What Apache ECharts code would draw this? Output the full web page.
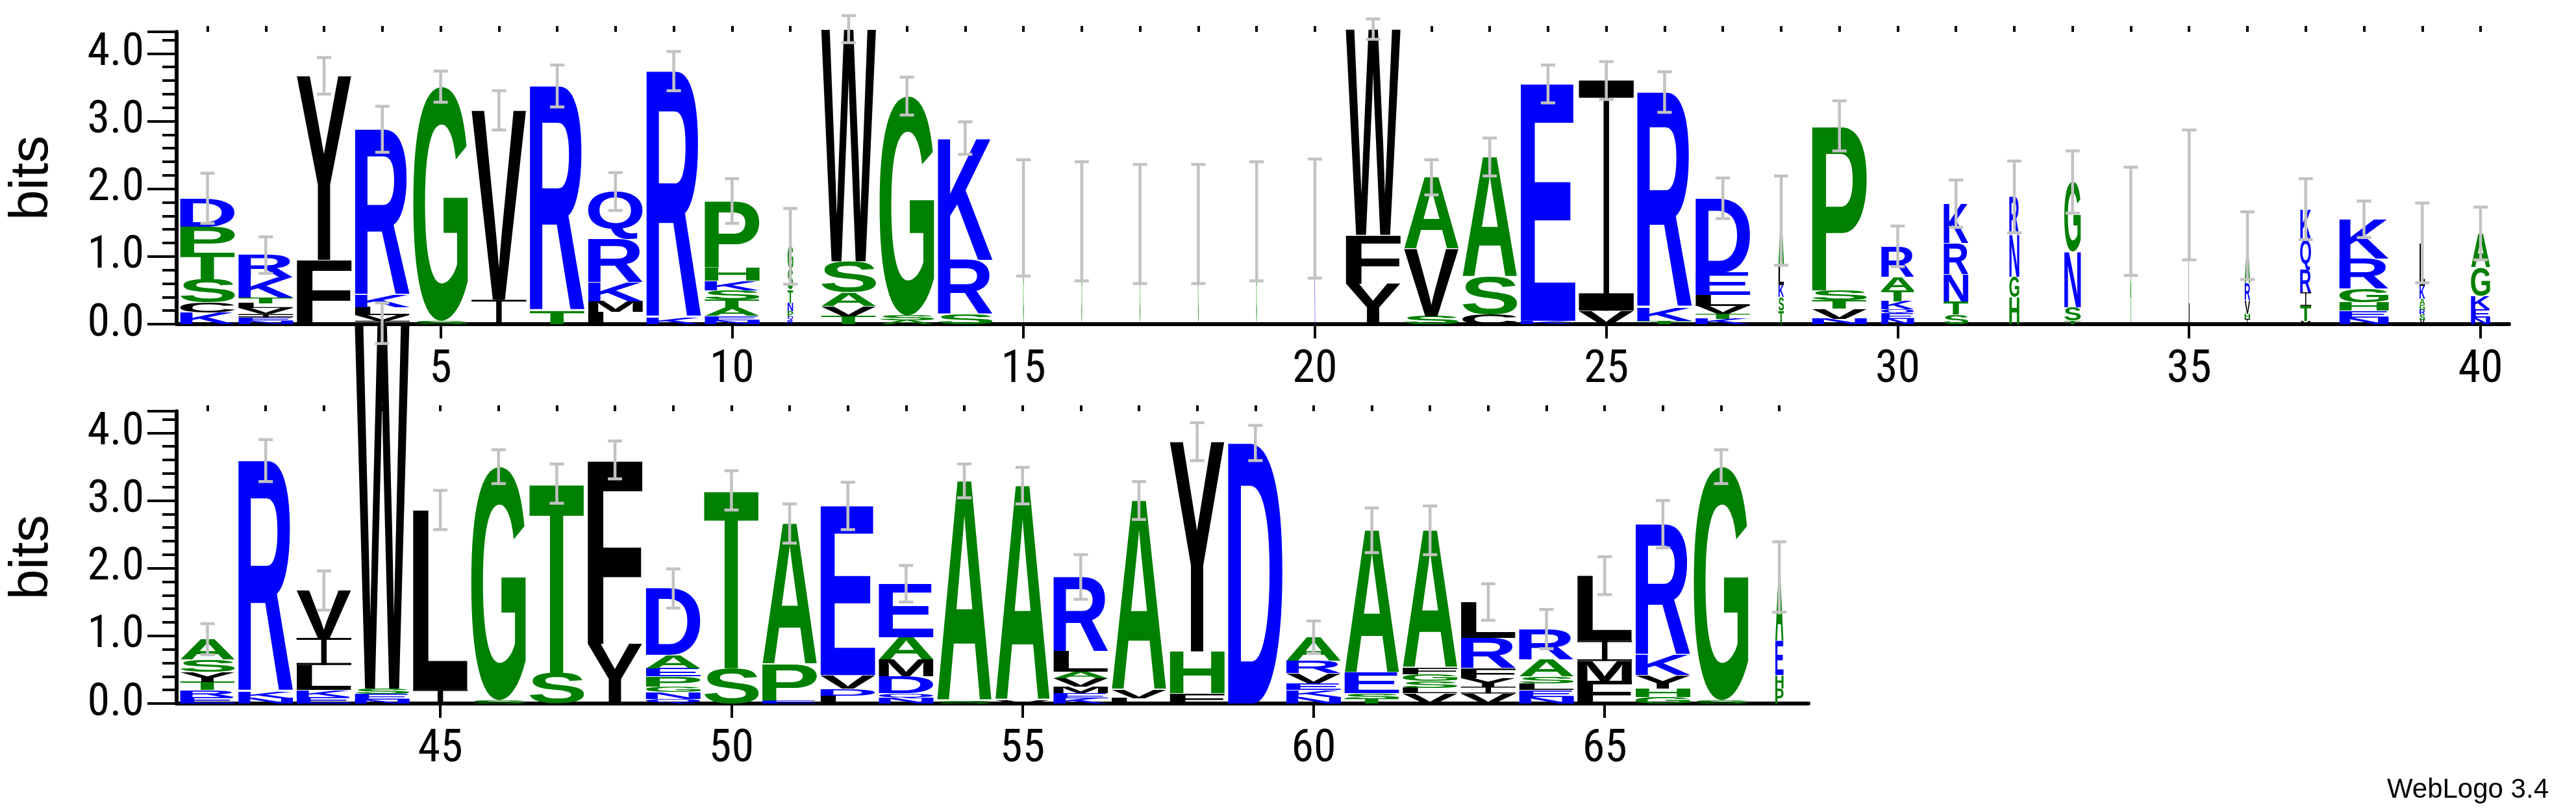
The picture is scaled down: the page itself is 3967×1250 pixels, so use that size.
<!DOCTYPE html>
<html>
<head>
<meta charset="utf-8">
<script src="https://cdn.jsdelivr.net/npm/echarts@6/dist/echarts.min.js"></script>
<style>
  html, body { margin: 0; padding: 0; background: #fff; }
  #chart { width: 3967px; height: 1250px; }
</style>
</head>
<body>
<div id="chart"></div>
<script>
// letter stacks, bottom to top: [letter, bits]
const stacks = [
  [['K',.17],['C',.15],['S',.34],['T',.40],['P',.38],['D',.42]],
  [['N',.05],['E',.05],['I',.05],['V',.09],['L',.07],['T',.08],['K',.30],['R',.33]],
  [['F',.95],['Y',2.72]],
  [['I',.05],['V',.08],['L',.12],['K',.18],['R',2.45]],
  [['S',.05],['G',3.46]],
  [['I',.36],['V',2.8]],
  [['T',.2],['R',3.32]],
  [['L',.18],['M',.16],['K',.28],['R',.64],['Q',.70]],
  [['K',.1],['R',3.64]],
  [['N',.06],['E',.06],['A',.12],['T',.12],['S',.14],['K',.14],['H',.2],['P',.98]],
  [['R',.06],['Q',.06],['P',.07],['N',.12],['T',.2],['S',.3],['G',.34]],
  [['T',.12],['V',.15],['A',.2],['S',.46],['W',3.43]],
  [['A',.06],['S',.07],['G',3.24]],
  [['S',.15],['R',.8],['K',1.8]],
  [['G',1.57]],
  [['G',1.52]],
  [['G',1.48]],
  [['G',1.48]],
  [['G',1.52]],
  [['K',1.56]],
  [['Y',.6],['F',.72],['W',3.04]],
  [['S',.12],['V',1.0],['A',1.05]],
  [['C',.15],['S',.55],['A',1.77]],
  [['K',.05],['E',3.5]],
  [['V',.2],['I',3.4]],
  [['T',.05],['K',.2],['R',3.18]],
  [['K',.08],['T',.07],['V',.12],['L',.16],['E',.33],['D',1.1]],
  [['T',.2],['S',.2],['K',.18],['L',.3],['A',.65]],
  [['N',.08],['V',.15],['T',.12],['S',.15],['P',2.43]],
  [['N',.08],['E',.08],['Q',.06],['K',.12],['T',.16],['A',.2],['R',.45]],
  [['S',.14],['T',.2],['N',.4],['R',.46],['K',.58]],
  [['H',.4],['G',.3],['N',.62],['R',.56]],
  [['T',.05],['S',.2],['N',.82],['G',1.03]],
  [['A',1.52]],
  [['L',1.91]],
  [['I',.08],['H',.07],['V',.2],['R',.25],['A',.56]],
  [['V',.05],['T',.22],['I',.2],['R',.33],['Q',.45],['K',.45]],
  [['N',.1],['E',.1],['H',.12],['G',.2],['R',.45],['K',.58]],
  [['V',.07],['S',.07],['R',.07],['G',.08],['A',.08],['K',.2],['L',.63]],
  [['N',.1],['E',.12],['K',.2],['G',.42],['A',.5]],
  [['E',.1],['R',.1],['T',.12],['Y',.15],['S',.18],['A',.3]],
  [['N',.08],['K',.1],['R',3.41]],
  [['E',.1],['K',.1],['L',.37],['I',.4],['V',.7]],
  [['N',.06],['E',.08],['S',.08],['W',5.4]],
  [['I',.2],['L',2.66]],
  [['S',.05],['G',3.45]],
  [['S',.45],['T',2.8]],
  [['Y',.88],['F',2.72]],
  [['Q',.07],['N',.1],['G',.08],['P',.15],['E',.12],['A',.2],['D',.98]],
  [['S',.52],['T',2.63]],
  [['E',.05],['P',.53],['A',2.08]],
  [['L',.12],['D',.1],['V',.2],['E',2.5]],
  [['N',.08],['Q',.07],['D',.25],['M',.25],['A',.33],['E',.79]],
  [['S',.04],['A',3.25]],
  [['V',.05],['A',3.17]],
  [['K',.08],['E',.07],['M',.1],['V',.12],['A',.1],['L',.3],['R',1.1]],
  [['L',.08],['V',.12],['A',2.8]],
  [['F',.15],['H',.62],['Y',3.1]],
  [['D',3.85]],
  [['N',.1],['K',.1],['E',.1],['V',.15],['R',.18],['A',.35]],
  [['T',.07],['S',.08],['E',.3],['A',2.11]],
  [['V',.15],['L',.08],['S',.1],['G',.1],['F',.1],['A',2.03]],
  [['V',.15],['I',.1],['Y',.12],['F',.15],['R',.45],['L',.53]],
  [['N',.1],['E',.1],['L',.1],['S',.1],['A',.25],['R',.45]],
  [['F',.33],['M',.3],['I',.3],['L',.96]],
  [['G',.1],['H',.12],['Y',.2],['K',.3],['R',1.93]],
  [['S',.05],['G',3.45]],
  [['P',.22],['H',.2],['E',.5],['A',.95]]
];
// stack width (fraction of a column), per position
const widths = [
  1,1,1,1,1,1,1,1,1,1, .1,1,1,1,.012,.012,.012,.012,.012,.012,
  1,1,1,1,1,1,1,.1,1,.6, .45,.18,.3,.015,.015,.1,.2,.9,.1,.35,
  1,1,1,1,1,1,1,1,1,1, 1,1,1,1,1,1,1,1,1,1,
  1,1,1,1,1,1,1,.15
];
// error bar half lengths (bits)
const errors = [
  .37,.27,.27,.34,.23,.29,.31,.28,.29,.33, .56,.2,.28,.24,.86,.88,.88,.88,.88,.88,
  .15,.26,.28,.28,.28,.3,.3,.66,.37,.3, .35,.53,.46,.8,.96,.5,.45,.27,.59,.39,
  .23,.31,.29,.3,.29,.25,.29,.28,.29,.29, .29,.35,.27,.25,.27,.33,.28,.28,.26,.24,
  .33,.36,.27,.29,.28,.35,.25,.52
];
const yTicks = [0, 1, 2, 3, 4];
const xLabelsTop = [5, 10, 15, 20, 25, 30, 35, 40];
const xLabelsBottom = [45, 50, 55, 60, 65];

const colors = {};
'RKDENQ'.split('').forEach(c => colors[c] = '#0000ff');
'SGHTAP'.split('').forEach(c => colors[c] = '#008000');
'YVMCLFIW'.split('').forEach(c => colors[c] = '#000000');

const FONT = 'bold 200px "Liberation Sans"';
const ctx = document.createElement('canvas').getContext('2d');
ctx.font = FONT; ctx.textBaseline = 'middle'; ctx.textAlign = 'left';
const glyph = {};
function bounds(ch) {
  if (!glyph[ch]) {
    const m = ctx.measureText(ch);
    glyph[ch] = { l: -m.actualBoundingBoxLeft, r: m.actualBoundingBoxRight,
                  t: -m.actualBoundingBoxAscent, b: m.actualBoundingBoxDescent };
  }
  return glyph[ch];
}

const letterData = [[], []];
const errData = [[], []];
stacks.forEach((st, i) => {
  const pos = i + 1, g = pos <= 40 ? 0 : 1;
  let y = 0;
  st.forEach(([ch, h]) => {
    letterData[g].push({ value: [pos, y, y + h, widths[i]], ch });
    y += h;
  });
  errData[g].push([pos, y, errors[i]]);
});

function renderLetter(params, api) {
  const d = letterData[params.seriesIndex === 0 ? 0 : 1][params.dataIndex];
  const [pos, y0, y1, w] = d.value;
  const p0 = api.coord([pos - 0.47 * w, y0]);
  const p1 = api.coord([pos + 0.47 * w, y1]);
  const bw = Math.max(p1[0] - p0[0], 1), bh = p0[1] - p1[1];
  if (bh <= 0.3) return null;
  const fill = colors[d.ch];
  if (d.ch === 'I') {
    // serif I: caps and a thin stem
    const cap = Math.max(bh * 0.075, 1.5), stem = Math.max(bw * 0.1, 1);
    const L = p0[0], T = p1[1];
    return {
      type: 'group', silent: true, children: [
        { type: 'rect', shape: { x: L, y: T, width: bw, height: cap }, style: { fill } },
        { type: 'rect', shape: { x: L, y: T + bh - cap, width: bw, height: cap }, style: { fill } },
        { type: 'rect', shape: { x: L + (bw - stem) / 2, y: T, width: stem, height: bh }, style: { fill } }
      ]
    };
  }
  const gb = bounds(d.ch);
  const sx = bw / (gb.r - gb.l), sy = bh / (gb.b - gb.t);
  return {
    type: 'text', silent: true,
    x: p0[0] - sx * gb.l, y: p0[1] - sy * gb.b, scaleX: sx, scaleY: sy,
    style: { text: d.ch, font: FONT, fill, align: 'left', verticalAlign: 'middle' }
  };
}

function renderErr(params, api) {
  const pos = api.value(0), top = api.value(1), e = api.value(2);
  const a = api.coord([pos, top + e]), b = api.coord([pos, top - e]);
  const cw = 11, st = { stroke: '#c2c2c2', lineWidth: 4.5 };
  return {
    type: 'group', silent: true, children: [
      { type: 'line', shape: { x1: a[0], y1: a[1], x2: b[0], y2: b[1] }, style: st },
      { type: 'line', shape: { x1: a[0] - cw, y1: a[1], x2: a[0] + cw, y2: a[1] }, style: st },
      { type: 'line', shape: { x1: b[0] - cw, y1: b[1], x2: b[0] + cw, y2: b[1] }, style: st }
    ]
  };
}

const tickFont = '"Liberation Sans Narrow", "Roboto Condensed", "DejaVu Sans Condensed", sans-serif';
function xAxes(gi, min, max, labels) {
  const all = [];
  for (let v = Math.ceil(min); v <= max; v++) all.push(v);
  return [{
    type: 'value', gridIndex: gi, min, max,
    axisLine: { lineStyle: { color: '#000', width: 6 } },
    axisTick: { customValues: labels, length: 22, lineStyle: { color: '#000', width: 4 } },
    axisLabel: { customValues: labels, fontSize: 70, color: '#000', margin: 36, fontFamily: tickFont },
    splitLine: { show: false }
  }, {
    type: 'value', gridIndex: gi, min, max,
    axisLine: { show: false },
    axisTick: { customValues: all, length: 9, lineStyle: { color: '#000', width: 4 } },
    axisLabel: { show: false }, splitLine: { show: false }
  }];
}
function yAxis(gi) {
  return {
    type: 'value', gridIndex: gi, min: 0, max: 4.32, interval: 1,
    name: 'bits', nameLocation: 'middle', nameRotate: 90, nameGap: 180,
    nameTextStyle: { fontSize: 84, color: '#000', fontFamily: 'Liberation Sans' },
    axisLine: { show: true, lineStyle: { color: '#000', width: 6 } },
    axisTick: { show: true, length: 45, lineStyle: { color: '#000', width: 4 } },
    minorTick: { show: true, splitNumber: 5, length: 22, lineStyle: { color: '#000', width: 4 } },
    axisLabel: { formatter: v => v.toFixed(1), fontSize: 70, color: '#000', margin: 50,
                 fontFamily: tickFont, customValues: yTicks },
    splitLine: { show: false }, minorSplitLine: { show: false }
  };
}

const chart = echarts.init(document.getElementById('chart'), null, { renderer: 'canvas' });
chart.setOption({
  animation: false,
  backgroundColor: '#fff',
  grid: [
    { left: 263, top: 49, width: 3601, height: 450 },
    { left: 263, top: 633, width: 2522, height: 450 }
  ],
  xAxis: [...xAxes(0, 0.47, 40.49, xLabelsTop), ...xAxes(1, 40.47, 68.5, xLabelsBottom)],
  yAxis: [yAxis(0), yAxis(1)],
  series: [
    { type: 'custom', xAxisIndex: 0, yAxisIndex: 0, clip: false, renderItem: renderLetter,
      data: letterData[0].map(d => d.value), z: 2 },
    { type: 'custom', xAxisIndex: 2, yAxisIndex: 1, clip: false, renderItem: renderLetter,
      data: letterData[1].map(d => d.value), z: 2 },
    { type: 'custom', xAxisIndex: 0, yAxisIndex: 0, clip: false, renderItem: renderErr,
      data: errData[0], z: 3 },
    { type: 'custom', xAxisIndex: 2, yAxisIndex: 1, clip: false, renderItem: renderErr,
      data: errData[1], z: 3 }
  ],
  graphic: [{
    type: 'text', right: 42, top: 1195,
    style: { text: 'WebLogo 3.4', font: '42px "Liberation Sans"', fill: '#000' }
  }]
});
</script>
</body>
</html>
